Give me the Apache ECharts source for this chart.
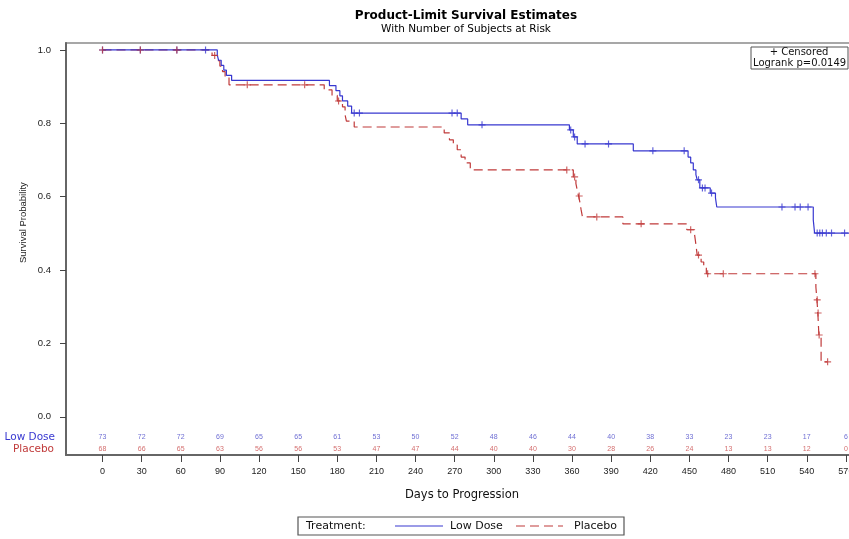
<!DOCTYPE html>
<html>
<head>
<meta charset="utf-8">
<script src="https://cdn.jsdelivr.net/npm/echarts@6/dist/echarts.min.js"></script>
<style>html,body{margin:0;padding:0;background:#fff}#c{width:849px;height:539px}</style>
</head>
<body>
<div id="c"></div>
<script>
// ---- data ----
const xTicks = [0,30,60,90,120,150,180,210,240,270,300,330,360,390,420,450,480,510,540,570];
const yTicks = [0,0.2,0.4,0.6,0.8,1.0];
const lowDoseAtRisk = [73,72,72,69,65,65,61,53,50,52,48,46,44,40,38,33,23,23,17,6];
const placeboAtRisk = [68,66,65,63,56,56,53,47,47,44,40,40,30,28,26,24,13,13,12,0];

const lowDoseTimes = [0,88,89,91,93,95,99,174,179,182,184,188,191,275,280,358,361,364,407,449,451,453,455,456,458,466,470,471,545,546,575];
const lowDoseSurv  = [1.0,0.986,0.972,0.958,0.945,0.931,0.917,0.903,0.889,0.875,0.861,0.847,0.828,0.812,0.796,0.782,0.763,0.744,0.725,0.708,0.692,0.673,0.660,0.646,0.624,0.610,0.597,0.572,0.537,0.501,0.501];
const lowDoseCensored = [0,29,57,79,193,197,268,272,291,359,362,370,388,422,446,457,460,462,467,521,531,535,541,548,550,552,555,559,569];

const placeboTimes = [0,84,88,90,92,94,97,170,176,180,184,186,187,193,262,266,269,272,275,278,282,361,363,364,365,366,367,368,399,448,454,455,456,459,461,463,547,547.8,548.5,549.3,551,556];
const placeboSurv  = [1.0,0.985,0.971,0.956,0.941,0.926,0.905,0.891,0.876,0.861,0.845,0.823,0.806,0.790,0.774,0.755,0.741,0.728,0.708,0.692,0.673,0.654,0.636,0.618,0.602,0.586,0.564,0.545,0.526,0.510,0.496,0.470,0.441,0.422,0.409,0.390,0.354,0.319,0.283,0.223,0.150,0.150];
const placeboCensored = [0,29,57,86,111,155,181,356,362,365.5,379,413,451,457,464,476,546.3,548,548.7,549.5,556];

// ---- helpers ----
function survAt(times, surv, t){ let s = surv[0]; for (let i=0;i<times.length;i++){ if (times[i] <= t) s = surv[i]; } return s; }
const BLUE = '#3838d0', RED = '#c03a3a';
const plus = 'path://M-0.5,-3H0.5V-0.5H3V0.5H0.5V3H-0.5V0.5H-3V-0.5H-0.5Z';
const rowLow = -0.055, rowPla = -0.088;
const font = 'Liberation Sans, Arial, sans-serif';
const wide = '"DejaVu Sans", sans-serif';

const chart = echarts.init(document.getElementById('c'), null, {renderer:'canvas'});
chart.setOption({
  animation:false,
  backgroundColor:'#fff',
  textStyle:{fontFamily:font},
  title:{
    text:'Product-Limit Survival Estimates',
    subtext:'With Number of Subjects at Risk',
    left:461, top:5, textAlign:'center', itemGap:2,
    textStyle:{fontSize:12, fontWeight:'bold', color:'#000', fontFamily:wide},
    subtextStyle:{fontSize:10.5, color:'#000', fontFamily:wide}
  },
  grid:{left:66, top:43, right:-36, height:412, show:true, borderColor:'#8a8a8a', borderWidth:1.5,
        containLabel:false, outerBoundsMode:'none'},
  xAxis:{
    type:'value', min:-28, max:600,
    axisLine:{show:true, onZero:false, lineStyle:{color:'#666', width:2}},
    axisTick:{show:true, customValues:xTicks, length:7, lineStyle:{color:'#444'}},
    axisLabel:{customValues:xTicks, fontSize:9, color:'#222', margin:12},
    splitLine:{show:false}
  },
  yAxis:{
    type:'value', min:-0.104, max:1.019,
    axisLine:{show:true, onZero:false, lineStyle:{color:'#666', width:2}},
    axisTick:{show:true, customValues:yTicks, length:6, lineStyle:{color:'#444'}},
    axisLabel:{customValues:yTicks, fontSize:9.5, color:'#222', margin:15, formatter:v=>v.toFixed(1)},
    splitLine:{show:false}
  },
  graphic:[
    {type:'text', x:18, y:263, rotation:Math.PI/2, style:{text:'Survival Probability', font:'9.5px '+font, fill:'#222'}},
    {type:'text', style:{x:462, y:495, text:'Days to Progression', font:'11.5px '+wide, fill:'#111', align:'center', verticalAlign:'middle'}},
    {type:'rect', shape:{x:751, y:47, width:97, height:22}, style:{fill:'#fff', stroke:'#555', lineWidth:1}},
    {type:'text', style:{x:799, y:52.5, text:'+ Censored', font:'10px '+wide, fill:'#111', align:'center', verticalAlign:'middle'}},
    {type:'text', style:{x:753, y:63.5, text:'Logrank p=0.0149', font:'10px '+wide, fill:'#111', align:'left', verticalAlign:'middle'}},
    {type:'rect', shape:{x:298, y:517, width:326, height:18}, style:{fill:'none', stroke:'#555', lineWidth:1.2}},
    {type:'text', style:{x:306, y:526, text:'Treatment:', font:'11px '+wide, fill:'#111', verticalAlign:'middle'}},
    {type:'line', shape:{x1:395, y1:526, x2:443, y2:526}, style:{stroke:BLUE, lineWidth:1.2}},
    {type:'text', style:{x:450, y:526, text:'Low Dose', font:'11px '+wide, fill:'#111', verticalAlign:'middle'}},
    {type:'line', shape:{x1:516, y1:526, x2:563, y2:526}, style:{stroke:RED, lineWidth:1.2, lineDash:[9,5]}},
    {type:'text', style:{x:574, y:526, text:'Placebo', font:'11px '+wide, fill:'#111', verticalAlign:'middle'}},
    {type:'text', style:{x:55, y:437, text:'Low Dose', font:'10.5px '+wide, fill:BLUE, align:'right', verticalAlign:'middle'}},
    {type:'text', style:{x:54, y:449, text:'Placebo', font:'10.5px '+wide, fill:RED, align:'right', verticalAlign:'middle'}}
  ],
  series:[
    {name:'Low Dose', type:'line', step:'end', showSymbol:false, symbol:'none', color:BLUE,
     lineStyle:{color:BLUE, width:1.2, type:'solid'},
     data:lowDoseTimes.map((t,i)=>[t, lowDoseSurv[i]]), z:3},
    {name:'Placebo', type:'line', step:'end', showSymbol:false, symbol:'none', color:RED,
     lineStyle:{color:RED, width:1.2, type:[9,5]},
     data:placeboTimes.map((t,i)=>[t, placeboSurv[i]]), z:2},
    {name:'LowCens', type:'scatter', symbol:plus, symbolSize:7, itemStyle:{color:BLUE},
     data:lowDoseCensored.map(t=>[t, survAt(lowDoseTimes, lowDoseSurv, t)]), z:4},
    {name:'PlaCens', type:'scatter', symbol:plus, symbolSize:7, itemStyle:{color:RED},
     data:placeboCensored.map(t=>[t, survAt(placeboTimes, placeboSurv, t)]), z:4},
    {name:'LowRisk', type:'scatter', symbol:'circle', symbolSize:1, itemStyle:{color:'rgba(0,0,0,0)'},
     label:{show:true, position:'inside', fontSize:7, color:'#4848c8', formatter:p=>String(p.value[2])},
     data:xTicks.map((t,i)=>[t, rowLow, lowDoseAtRisk[i]])},
    {name:'PlaRisk', type:'scatter', symbol:'circle', symbolSize:1, itemStyle:{color:'rgba(0,0,0,0)'},
     label:{show:true, position:'inside', fontSize:7, color:'#c84848', formatter:p=>String(p.value[2])},
     data:xTicks.map((t,i)=>[t, rowPla, placeboAtRisk[i]])}
  ]
});
</script>
</body>
</html>
